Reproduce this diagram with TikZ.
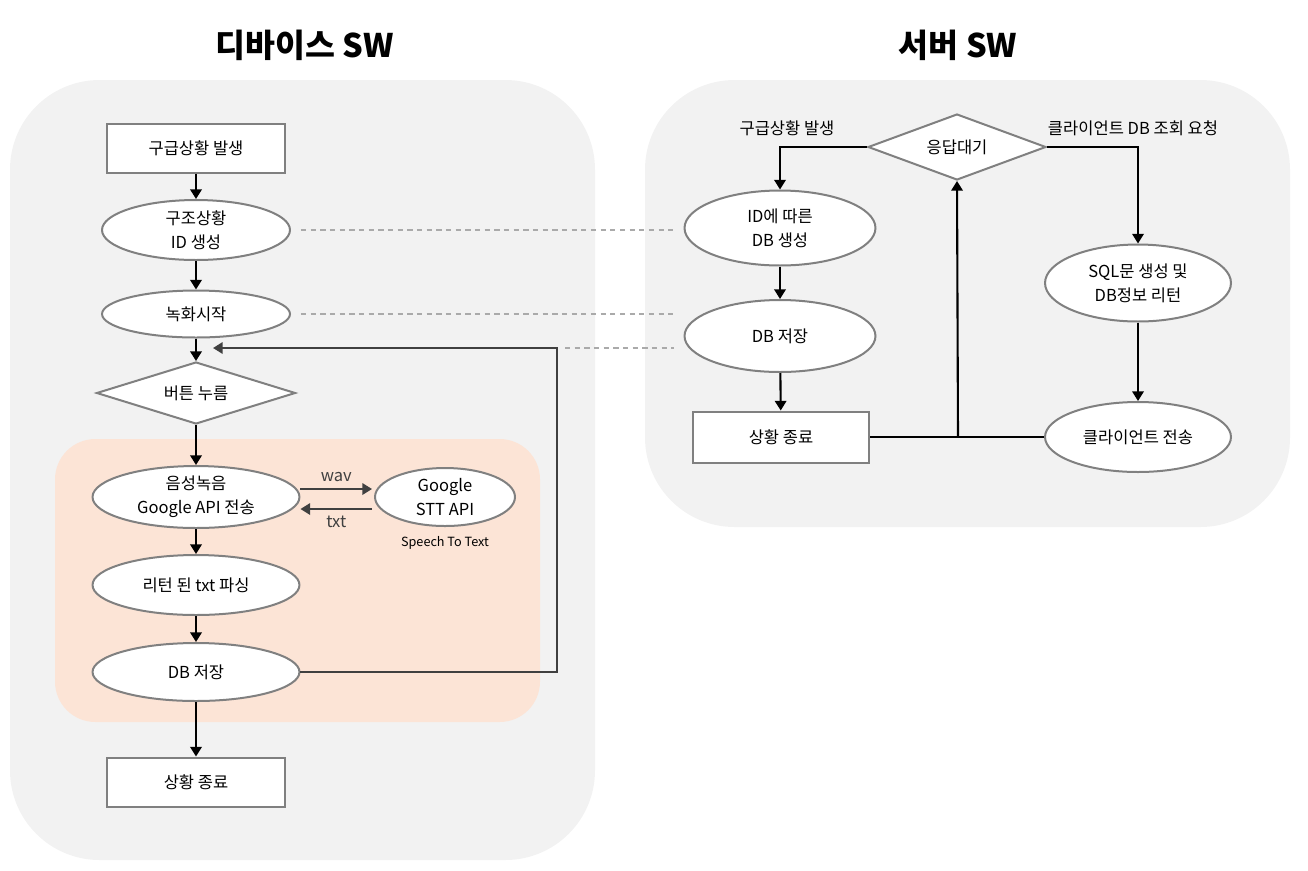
\documentclass[tikz,border=0pt]{standalone}
\usepackage{fontspec}
\setmainfont{Noto Sans CJK KR}
\usetikzlibrary{positioning}
\usetikzlibrary{arrows.meta}
\usetikzlibrary{shapes.geometric}
\definecolor{panel}{RGB}{242, 242, 242}
\definecolor{peach}{RGB}{252, 228, 214}
\definecolor{edge}{RGB}{128, 128, 128}
\definecolor{loopc}{RGB}{64, 64, 64}
\definecolor{dash}{RGB}{170, 170, 170}

\begin{document}
\begin{tikzpicture}[x=0.02cm, y=-0.02cm]
    \tikzstyle{txt}=[font=\fontsize{9.4}{13.5}\selectfont, align=center]
    \tikzstyle{box}=[txt, rectangle, draw=edge, fill=white, line width=0.4mm, inner sep=0]
    \tikzstyle{oval}=[txt, ellipse, draw=edge, fill=white, line width=0.4mm, inner sep=0]
    \tikzstyle{choice}=[txt, diamond, draw=edge, fill=white, line width=0.4mm, inner sep=0, aspect=3]
    \tikzstyle{flow}=[line width=0.42mm, arrows={-Triangle[length=5.5pt, width=6.5pt]}, color=black]
    \tikzstyle{plain}=[line width=0.42mm, color=black]
    \tikzstyle{side}=[line width=0.4mm, arrows={-Triangle[length=5.5pt, width=6.5pt]}, color=loopc]
    \tikzstyle{link}=[line width=0.3mm, color=dash, dash pattern=on 3pt off 2.5pt]

    \useasboundingbox (0, 0) rectangle (1308, 870);

    % Panels
    \fill [panel, rounded corners=51pt] (10, 80) rectangle (595, 860);
    \fill [panel, rounded corners=51pt] (645, 80) rectangle (1290, 527);
    \fill [peach, rounded corners=23pt] (55, 439) rectangle (540, 722);

    % Titles
    \node (ltitle) at (305, 45) {\fontsize{18.5}{22}\selectfont\bfseries 디바이스 SW};
    \node (rtitle) at (958, 45) {\fontsize{18.5}{22}\selectfont\bfseries 서버 SW};

    % Device side
    \node [box, minimum width=3.56cm, minimum height=0.98cm] (lstart) at (196, 148) {구급상황 발생};
    \node [oval, minimum width=3.76cm, minimum height=1.2cm] (lid) at (196, 230) {구조상황\\ID 생성};
    \node [oval, minimum width=3.76cm, minimum height=0.94cm] (lrec) at (196, 314) {녹화시작};
    \node [choice, minimum width=3.98cm, minimum height=1.24cm] (lbtn) at (196, 393) {버튼 누름};
    \node [oval, minimum width=4.14cm, minimum height=1.24cm] (lsend) at (196, 497) {음성녹음\\Google API 전송};
    \node [oval, minimum width=2.8cm, minimum height=1.16cm] (stt) at (445, 497) {Google\\STT API};
    \node [font=\fontsize{7.2}{9}\selectfont] (sttnote) at (445, 543) {Speech To Text};
    \node [oval, minimum width=4.14cm, minimum height=1.2cm] (lparse) at (196, 585) {리턴 된 txt 파싱};
    \node [oval, minimum width=4.14cm, minimum height=1.16cm] (ldb) at (196, 672) {DB 저장};
    \node [box, minimum width=3.56cm, minimum height=0.98cm] (lend) at (196, 782) {상황 종료};

    % Device arrows
    \draw [flow] (lstart) -- (lid);
    \draw [flow] (lid) -- (lrec);
    \draw [flow] (lrec) -- (lbtn);
    \draw [flow] (lbtn) -- (lsend);
    \draw [flow] (lsend) -- (lparse);
    \draw [flow] (lparse) -- (ldb);
    \draw [flow] (ldb) -- (lend);

    % wav and txt
    \draw [side] ([yshift=0.16cm]lsend.east) -- ([yshift=0.16cm, xshift=-0.04cm]stt.west)
        node [midway, above, txt] (wav) {wav};
    \draw [side] ([yshift=-0.24cm, xshift=-0.04cm]stt.west) -- ([yshift=-0.24cm]lsend.east)
        node [midway, below, txt] (txtlab) {txt};

    % Loop back to the button
    \coordinate (loop) at (557, 348);
    \coordinate (back) at (213, 348);
    \draw [side] (ldb.east) -| (loop) -- (back);

    % Server side
    \node [choice, minimum width=3.56cm, minimum height=1.32cm] (wait) at (957, 147) {응답대기};
    \node [txt] (reqa) at (787, 128) {구급상황 발생};
    \node [txt] (reqb) at (1133, 128) {클라이언트 DB 조회 요청};
    \node [oval, minimum width=3.82cm, minimum height=1.5cm] (rid) at (780, 228) {ID에 따른\\DB 생성};
    \node [oval, minimum width=3.82cm, minimum height=1.44cm] (rdb) at (780, 336) {DB 저장};
    \node [box, minimum width=3.54cm, minimum height=1.02cm] (rend) at (781, 437) {상황 종료};
    \node [oval, minimum width=3.72cm, minimum height=1.54cm] (sql) at (1138, 283) {SQL문 생성 및\\DB정보 리턴};
    \node [oval, minimum width=3.72cm, minimum height=1.4cm] (csend) at (1138, 437) {클라이언트 전송};

    % Server arrows
    \draw [flow] (wait.west) -| (rid);
    \draw [flow] (rid) -- (rdb);
    \draw [flow] (rdb) -- (rend);
    \draw [flow] (wait.east) -| (sql);
    \draw [flow] (sql) -- (csend);
    \draw [plain] (rend) -- (csend);
    \coordinate (join) at (958, 437);
    \draw [flow] (join) -- (wait.south);

    % Dashed links
    \draw [link] ([xshift=0.2cm]lid.east) -- ([xshift=-0.2cm]rid.west |- lid.east);
    \draw [link] ([xshift=0.2cm]lrec.east) -- ([xshift=-0.2cm]rdb.west |- lrec.east);
    \draw [link] ([xshift=0.16cm]loop) -- ([xshift=-0.2cm]rdb.west |- loop);

\end{tikzpicture}
\end{document}
